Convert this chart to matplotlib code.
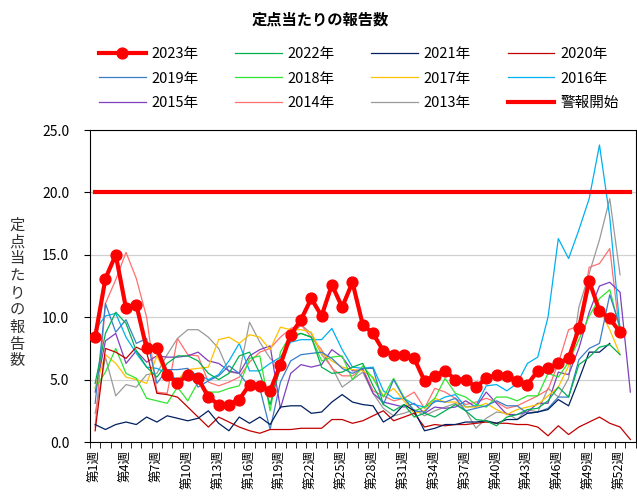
import numpy as np
import matplotlib
matplotlib.use("Agg")
import matplotlib.pyplot as plt

plt.rcParams['font.family'] = ['Noto Sans CJK JP', 'DejaVu Sans']

# ---------------- data ----------------
y2023 = [8.4, 13.1, 15.0, 10.7, 11.0, 7.5, 7.5, 5.4, 4.7, 5.4,
         5.1, 3.6, 3.0, 3.0, 3.4, 4.6, 4.5, 4.1, 6.2, 8.6,
         9.8, 11.5, 10.1, 12.6, 10.8, 12.8, 9.4, 8.7, 7.3, 7.0,
         7.0, 6.7, 4.9, 5.3, 5.7, 5.0, 5.0, 4.4, 5.1, 5.4,
         5.3, 4.9, 4.6, 5.7, 5.9, 6.3, 6.7, 9.1, 12.9, 10.5,
         9.9, 8.8]
y2022 = [4.7, 8.7, 10.4, 9.5, 7.3, 6.0, 5.2, 6.3, 6.9, 6.9,
         6.5, 5.5, 5.0, 5.5, 6.9, 7.2, 5.5, 3.0, 6.0, 8.3,
         8.7, 8.4, 6.0, 5.5, 5.6, 6.0, 6.3, 4.5, 3.0, 2.5,
         3.0, 2.0, 2.3, 2.0, 2.5, 3.0, 2.5, 1.8, 1.7, 1.3,
         2.0, 2.2, 2.6, 2.7, 3.3, 4.4, 3.6, 6.2, 6.8, 7.6,
         7.8, 7.0]
y2021 = [1.4, 1.0, 1.4, 1.6, 1.4, 2.0, 1.6, 2.1, 1.9, 1.7,
         1.9, 2.5, 1.5, 0.9, 2.0, 1.5, 2.0, 1.4, 2.8, 2.9,
         2.9, 2.3, 2.4, 3.2, 3.8, 3.2, 3.0, 2.9, 1.6, 2.1,
         3.0, 2.5, 0.9, 1.1, 1.4, 1.4, 1.6, 1.6, 1.7, 1.5,
         1.8, 1.8, 2.3, 2.4, 2.6, 3.4, 2.9, 5.0, 7.2, 7.2,
         7.9]
y2020 = [0.9, 7.5, 7.2, 6.7, 7.6, 7.2, 3.9, 3.8, 3.6, 2.8,
         2.0, 1.2, 2.0, 1.6, 1.2, 0.9, 0.7, 1.0, 1.0, 1.0,
         1.1, 1.1, 1.1, 1.8, 1.8, 1.5, 1.7, 2.1, 2.5, 1.7,
         2.0, 2.3, 1.2, 1.4, 1.3, 1.4, 1.4, 1.5, 1.6, 1.5,
         1.5, 1.4, 1.4, 1.2, 0.5, 1.3, 0.6, 1.2, 1.6, 2.0,
         1.5, 1.2, 0.2]
y2019 = [3.1, 11.1, 8.8, 9.8, 7.9, 8.3, 4.7, 5.8, 5.8, 5.9,
         4.4, 4.9, 5.3, 6.1, 5.5, 4.4, 4.3, 1.0, 4.8, 6.5,
         7.0, 7.1, 7.2, 6.7, 5.9, 5.5, 5.9, 5.9, 3.0, 5.0,
         3.5, 2.5, 2.4, 3.3, 3.2, 3.5, 2.5, 2.7, 2.9, 3.3,
         2.9, 2.9, 2.3, 2.4, 2.7, 3.6, 3.6, 6.6, 7.5, 7.9,
         11.8, 9.2]
y2018 = [4.3, 5.6, 7.5, 5.5, 5.1, 3.5, 3.3, 3.1, 4.4, 3.3,
         4.8, 4.0, 4.0, 4.3, 4.5, 6.7, 6.9, 2.5, 7.2, 8.6,
         8.7, 8.4, 6.5, 6.8, 6.9, 5.0, 6.1, 5.1, 3.6, 5.1,
         3.6, 2.5, 2.8, 3.5, 5.1, 3.9, 3.6, 3.0, 2.8, 3.6,
         3.6, 3.3, 3.7, 3.7, 5.5, 5.2, 6.4, 8.2, 10.1, 11.5,
         12.2, 9.0]
y2017 = [4.4, 7.0, 6.3, 5.2, 5.0, 4.7, 6.9, 5.2, 5.0, 5.8,
         5.9, 6.0, 8.2, 8.4, 7.9, 8.6, 8.4, 7.4, 9.2, 9.0,
         9.0, 8.8, 7.1, 6.5, 6.0, 5.8, 5.7, 5.2, 3.7, 4.3,
         3.3, 2.3, 2.5, 3.5, 3.2, 3.2, 2.8, 2.8, 3.1, 2.6,
         2.2, 2.6, 2.8, 3.0, 3.7, 4.4, 6.1, 9.0, 12.8, 10.6,
         9.0, 7.0]
y2016 = [9.0, 10.1, 10.3, 8.4, 7.1, 6.0, 5.9, 5.5, 5.0, 5.6,
         5.4, 5.0, 5.4, 6.5, 7.9, 5.7, 5.7, 6.3, 6.8, 8.0,
         8.2, 8.2, 8.2, 9.1, 7.4, 6.0, 5.9, 6.0, 4.1, 3.5,
         3.5, 3.0, 2.8, 3.2, 3.6, 3.8, 2.8, 2.9, 4.5, 4.6,
         4.1, 4.7, 6.3, 6.8, 10.0, 16.3, 14.7, 17.0, 19.5, 23.8,
         18.0, 9.0]
y2015 = [4.0, 8.1, 8.7, 6.3, 7.3, 6.4, 6.9, 6.8, 6.8, 6.9,
         7.2, 6.5, 6.3, 5.7, 5.5, 6.9, 7.4, 7.7, 2.7, 5.5,
         6.2, 6.0, 6.2, 7.4, 6.8, 5.7, 5.8, 3.9, 3.2, 3.0,
         2.8, 3.1, 2.3, 2.8, 2.7, 2.8, 3.3, 2.8, 4.0, 3.1,
         2.2, 2.2, 2.4, 3.1, 3.1, 5.6, 5.4, 7.5, 10.4, 12.5,
         12.8, 12.0, 4.0]
y2014 = [1.2, 11.1, 13.0, 15.2, 13.1, 10.0, 4.0, 3.9, 8.3, 7.0,
         6.9, 4.8, 4.5, 4.8, 5.2, 6.4, 7.2, 7.5, 8.4, 9.1,
         9.4, 8.4, 7.4, 5.9, 5.3, 5.3, 5.9, 4.1, 3.7, 3.3,
         3.5, 4.0, 2.7, 4.3, 4.0, 3.5, 3.0, 3.2, 3.5, 3.2,
         2.7, 2.9, 3.3, 3.7, 4.2, 6.3, 9.0, 9.3, 14.0, 14.3,
         15.5, 8.5]
y2013 = [2.3, 6.8, 3.7, 4.6, 4.4, 5.4, 5.5, 7.0, 8.3, 9.0,
         9.0, 8.4, 7.5, 5.6, 5.5, 9.6, 8.0, 6.7, 6.0, 8.4,
         9.4, 8.7, 7.0, 6.0, 4.4, 5.0, 5.6, 3.9, 2.7, 2.1,
         2.3, 2.6, 2.1, 2.5, 2.8, 3.1, 2.5, 1.1, 1.9, 2.4,
         2.3, 1.8, 2.6, 2.4, 4.3, 3.6, 5.1, 10.8, 13.5, 16.2,
         19.5, 13.4]

alert_level = 20.0
n_weeks = 53
tick_weeks = list(range(1, 53, 3))
tick_labels = [f"第{w}週" for w in tick_weeks]

series = [
    ("2013年", y2013, "#9A9A9A"),
    ("2014年", y2014, "#FF6F6F"),
    ("2015年", y2015, "#7F3FBF"),
    ("2016年", y2016, "#00B0F0"),
    ("2017年", y2017, "#FFC000"),
    ("2018年", y2018, "#2EE62E"),
    ("2019年", y2019, "#3A7DC9"),
    ("2020年", y2020, "#C00000"),
    ("2021年", y2021, "#002060"),
    ("2022年", y2022, "#00B050"),
]

# ---------------- figure ----------------
fig = plt.figure(figsize=(6.37, 5.04), dpi=100)
ax = fig.add_axes([90 / 637, 1 - 442 / 504, (635.5 - 90) / 637, (442 - 130) / 504])

handles = {}
for name, vals, col in series:
    x = np.arange(1, len(vals) + 1)
    h, = ax.plot(x, vals, color=col, lw=0.9, zorder=2, label=name)
    handles[name] = h

x23 = np.arange(1, len(y2023) + 1)
h23, = ax.plot(x23, y2023, color="#FF0000", lw=3.0, marker="o", ms=7.8,
               zorder=5, label="2023年")
handles["2023年"] = h23

hal, = ax.plot([1, n_weeks], [alert_level, alert_level], color="#FF0000",
               lw=3.0, zorder=4, label="警報開始")
handles["警報開始"] = hal

ax.set_xlim(0.5, n_weeks + 0.5)
ax.set_ylim(0, 25)
ax.set_yticks(np.arange(0, 25.1, 5))
ax.set_yticklabels([f"{v:.1f}" for v in np.arange(0, 25.1, 5)], fontsize=10)
ax.grid(axis="y", color="#D0D0D0", lw=0.9, zorder=0)
ax.set_axisbelow(True)

ax.set_xticks(tick_weeks)
ax.set_xticklabels(tick_labels, rotation=90, fontsize=9)
ax.set_xticks(np.arange(0.5, n_weeks + 1, 1), minor=True)
ax.tick_params(axis="x", which="major", length=0, pad=6)
ax.tick_params(axis="x", which="minor", length=4, direction="out", color="black")
ax.tick_params(axis="y", length=4, direction="out", pad=11)

for s in ax.spines.values():
    s.set_color("black")
    s.set_linewidth(0.8)

fig.text(320 / 637, 1 - 20 / 504, "定点当たりの報告数", ha="center", va="center",
         fontsize=11, fontweight="bold")
fig.text(17 / 637, 1 - 293 / 504, "\n".join("定点当たりの報告数"), ha="center",
         va="center", fontsize=11, linespacing=1.0, color="#333333")

order = ["2023年", "2019年", "2015年",
         "2022年", "2018年", "2014年",
         "2021年", "2017年", "2013年",
         "2020年", "2016年", "警報開始"]
leg = fig.legend([handles[k] for k in order], order, ncol=4, frameon=False,
                 loc="upper left", bbox_to_anchor=(99 / 637, 1 - 47 / 504),
                 fontsize=10.5, handlelength=3.2, handletextpad=0.4,
                 columnspacing=2.5, labelspacing=0.72, borderpad=0,
                 borderaxespad=0)

fig.savefig("out.png", dpi=100)
